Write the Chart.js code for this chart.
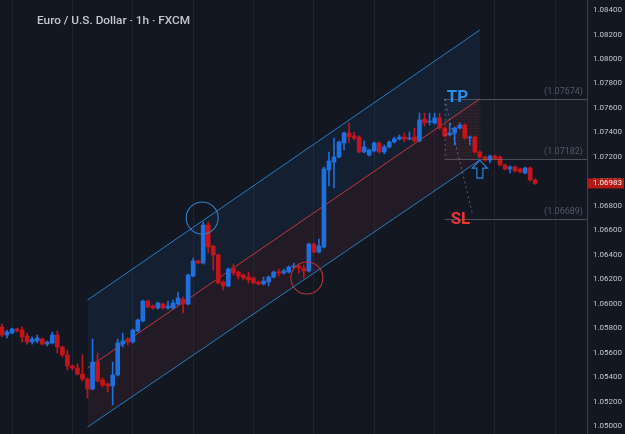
<!DOCTYPE html>
<html>
<head>
<meta charset="utf-8">
<script src="https://cdn.jsdelivr.net/npm/chart.js@4.4.1/dist/chart.umd.min.js"></script>
<style>
  html, body { margin: 0; padding: 0; background: #131722; }
  #wrap { width: 625px; height: 434px; }
</style>
</head>
<body>
<div id="wrap"><canvas id="priceChart" width="625" height="434"></canvas></div>
<script>
// EUR/USD 1h candles
var opens = [1.05810,1.05744,1.05760,1.05793,1.05785,1.05736,1.05687,1.05695,1.05711,1.05670,
  1.05679,1.05744,1.05646,1.05581,1.05491,1.05474,1.05425,1.05384,1.05303,1.05523,
  1.05376,1.05344,1.05327,1.05417,1.05670,1.05711,1.05687,1.05777,1.05859,1.06022,
  1.05981,1.05965,1.05997,1.05965,1.05965,1.05997,1.06038,1.05997,1.06226,1.06349,
  1.06332,1.06643,1.06471,1.06398,1.06177,1.06145,1.06291,1.06259,1.06234,1.06218,
  1.06210,1.06177,1.06161,1.06177,1.06218,1.06259,1.06251,1.06259,1.06300,1.06308,
  1.06291,1.06267,1.06488,1.06422,1.06463,1.07093,1.07158,1.07199,1.07313,1.07395,
  1.07371,1.07362,1.07240,1.07215,1.07248,1.07313,1.07240,1.07281,1.07322,1.07346,
  1.07362,1.07346,1.07362,1.07330,1.07509,1.07485,1.07477,1.07518,1.07436,1.07379,
  1.07395,1.07436,1.07460,1.07354,1.07362,1.07240,1.07199,1.07174,1.07207,1.07199,
  1.07134,1.07101,1.07117,1.07101,1.07068,1.07109,1.07011];
var highs = [1.05834,1.05785,1.05801,1.05801,1.05810,1.05760,1.05728,1.05744,1.05720,1.05695,
  1.05769,1.05777,1.05654,1.05621,1.05499,1.05507,1.05581,1.05393,1.05711,1.05597,
  1.05393,1.05352,1.05523,1.05711,1.05760,1.05720,1.05793,1.05875,1.06030,1.06030,
  1.05989,1.06014,1.06005,1.06022,1.06030,1.06095,1.06055,1.06242,1.06373,1.06357,
  1.06668,1.06668,1.06480,1.06406,1.06186,1.06291,1.06324,1.06267,1.06242,1.06259,
  1.06218,1.06186,1.06218,1.06226,1.06267,1.06283,1.06283,1.06308,1.06332,1.06324,
  1.06316,1.06496,1.06496,1.06529,1.07117,1.07240,1.07354,1.07330,1.07403,1.07477,
  1.07403,1.07371,1.07330,1.07264,1.07322,1.07322,1.07297,1.07330,1.07362,1.07379,
  1.07395,1.07403,1.07436,1.07558,1.07558,1.07558,1.07558,1.07558,1.07444,1.07477,
  1.07444,1.07477,1.07468,1.07371,1.07371,1.07248,1.07207,1.07215,1.07215,1.07207,
  1.07142,1.07126,1.07126,1.07109,1.07117,1.07117,1.07019];
var lows = [1.05728,1.05720,1.05752,1.05769,1.05687,1.05670,1.05670,1.05679,1.05662,1.05654,
  1.05670,1.05597,1.05564,1.05458,1.05458,1.05417,1.05368,1.05229,1.05295,1.05360,
  1.05319,1.05278,1.05172,1.05409,1.05646,1.05662,1.05679,1.05769,1.05850,1.05965,
  1.05956,1.05956,1.05956,1.05956,1.05956,1.05989,1.05924,1.05989,1.06218,1.06324,
  1.06324,1.06414,1.06275,1.06161,1.06112,1.06137,1.06234,1.06202,1.06194,1.06169,
  1.06161,1.06153,1.06153,1.06145,1.06210,1.06226,1.06242,1.06251,1.06291,1.06251,
  1.06210,1.06259,1.06414,1.06414,1.06455,1.06962,1.06946,1.07191,1.07256,1.07313,
  1.07338,1.07232,1.07232,1.07207,1.07240,1.07232,1.07224,1.07272,1.07313,1.07338,
  1.07322,1.07338,1.07322,1.07322,1.07452,1.07460,1.07468,1.07428,1.07362,1.07371,
  1.07297,1.07428,1.07346,1.07297,1.07232,1.07191,1.07166,1.07150,1.07174,1.07126,
  1.07093,1.07068,1.07076,1.07068,1.07060,1.07003,1.06975];
var closes = [1.05744,1.05769,1.05793,1.05777,1.05728,1.05687,1.05711,1.05720,1.05670,1.05687,
  1.05744,1.05646,1.05581,1.05491,1.05474,1.05425,1.05384,1.05303,1.05523,1.05368,
  1.05335,1.05327,1.05417,1.05679,1.05695,1.05687,1.05785,1.05867,1.06022,1.05973,
  1.05965,1.06005,1.05965,1.05981,1.06005,1.06046,1.05997,1.06234,1.06349,1.06332,
  1.06643,1.06463,1.06398,1.06169,1.06145,1.06283,1.06251,1.06226,1.06210,1.06194,
  1.06169,1.06161,1.06186,1.06218,1.06259,1.06251,1.06267,1.06300,1.06308,1.06291,
  1.06267,1.06488,1.06422,1.06471,1.07101,1.07166,1.07199,1.07322,1.07395,1.07362,
  1.07354,1.07240,1.07281,1.07256,1.07313,1.07240,1.07281,1.07322,1.07346,1.07362,
  1.07346,1.07354,1.07330,1.07501,1.07477,1.07493,1.07518,1.07436,1.07371,1.07395,
  1.07436,1.07460,1.07354,1.07362,1.07240,1.07199,1.07174,1.07207,1.07183,1.07134,
  1.07101,1.07117,1.07085,1.07076,1.07109,1.07011,1.06983];

var yTicks = [1.050,1.052,1.054,1.056,1.058,1.060,1.062,1.064,1.066,1.068,1.070,1.072,1.074,1.076,1.078,1.080,1.082,1.084];
var xGrid = [2, 14, 26, 38, 50, 62, 74, 86, 98, 110];

// regression channel (start bar, end bar)
var channelX = [17, 95];
var channelUpper = [1.06030, 1.08237];
var channelMid = [1.05474, 1.07674];
var channelLower = [1.04992, 1.07174];

// TP / entry / SL levels, drawn from bar 88
var levelStart = 88;
var levels = [1.07674, 1.07182, 1.06689];
var levelNames = ['TP', '', 'SL'];
var lastPrice = 1.06983;

// circled spots: bar index, price
var circleBars = [39.8, 60.6];
var circlePrices = [1.06700, 1.06210];

var UP = '#1f6fdc', DOWN = '#c4161a';
var candleColors = opens.map(function (o, i) { return closes[i] >= o ? UP : DOWN; });

function xy(xs, ys) { return xs.map(function (v, i) { return { x: v, y: ys[i] }; }); }

var overlay = {
    id: 'overlay',
    beforeDatasetsDraw: function (chart) {
        var ctx = chart.ctx, a = chart.chartArea, x = chart.scales.x, y = chart.scales.y;
        var x0 = x.getPixelForValue(levelStart), x1 = x.getPixelForValue(channelX[1]);
        var yTop = y.getPixelForValue(levels[0]), yBot = y.getPixelForValue(levels[1]);
        ctx.save();
        ctx.fillStyle = 'rgba(255,255,255,0.018)';
        ctx.fillRect(x0, yTop, a.right - x0, yBot - yTop);
        ctx.fillStyle = 'rgba(170,160,175,0.16)';
        for (var py = yTop + 2; py < yBot - 1; py += 3) {
            for (var px = x0 + 2; px < x1; px += 3) ctx.fillRect(px, py, 1, 1);
        }
        ctx.restore();
    },
    afterDatasetsDraw: function (chart) {
        var ctx = chart.ctx, a = chart.chartArea, x = chart.scales.x, y = chart.scales.y;
        var x0 = x.getPixelForValue(levelStart);
        ctx.save();
        // level lines + labels
        levels.forEach(function (lv) {
            var py = Math.round(y.getPixelForValue(lv)) + 0.5;
            ctx.strokeStyle = 'rgba(120,123,134,0.55)';
            ctx.lineWidth = 1;
            ctx.beginPath(); ctx.moveTo(x0, py); ctx.lineTo(a.right, py); ctx.stroke();
            ctx.fillStyle = '#555965';
            ctx.font = '9px Roboto, sans-serif';
            ctx.textAlign = 'right'; ctx.textBaseline = 'bottom';
            ctx.fillText('(' + lv.toFixed(5) + ')', a.right - 4, py - 3);
        });
        // dashed guides
        ctx.setLineDash([2, 3]);
        ctx.strokeStyle = 'rgba(150,152,165,0.55)';
        ctx.beginPath();
        ctx.moveTo(x0 + 0.5, y.getPixelForValue(levels[0]));
        ctx.lineTo(x0 + 0.5, y.getPixelForValue(levels[1]));
        ctx.moveTo(x0, y.getPixelForValue(levels[0]));
        ctx.lineTo(x.getPixelForValue(levelStart + 5.5), y.getPixelForValue(levels[2]) - 6);
        ctx.stroke();
        ctx.setLineDash([]);
        // TP / SL text
        ctx.font = 'bold 17px Roboto, sans-serif';
        ctx.textAlign = 'left'; ctx.textBaseline = 'middle';
        ctx.fillStyle = '#2b8ee8';
        ctx.fillText(levelNames[0], x0 + 2, y.getPixelForValue(levels[0]) - 1);
        ctx.fillStyle = '#e53935';
        ctx.fillText(levelNames[2], x0 + 6, y.getPixelForValue(levels[2]));
        // arrow under entry
        var ax = x.getPixelForValue(channelX[1]), ay = y.getPixelForValue(levels[1]) + 1;
        ctx.strokeStyle = '#2b82d0'; ctx.lineWidth = 1.2;
        ctx.beginPath();
        ctx.moveTo(ax, ay);
        ctx.lineTo(ax + 7.5, ay + 8); ctx.lineTo(ax + 3, ay + 8); ctx.lineTo(ax + 3, ay + 18);
        ctx.lineTo(ax - 3, ay + 18); ctx.lineTo(ax - 3, ay + 8); ctx.lineTo(ax - 7.5, ay + 8);
        ctx.closePath(); ctx.stroke();
        // circles
        var circleColors = ['#2f7fc4', '#b93337'];
        circleBars.forEach(function (b, i) {
            ctx.strokeStyle = circleColors[i]; ctx.lineWidth = 1.1;
            ctx.beginPath();
            ctx.arc(x.getPixelForValue(b), y.getPixelForValue(circlePrices[i]), 16, 0, Math.PI * 2);
            ctx.stroke();
        });
        // title
        ctx.font = '500 11.8px Roboto, sans-serif';
        ctx.fillStyle = '#c6c8cf';
        ctx.textAlign = 'left'; ctx.textBaseline = 'middle';
        ctx.fillText('Euro / U.S. Dollar · 1h · FXCM', 37, 21);
        ctx.restore();
    },
    afterDraw: function (chart) {
        var ctx = chart.ctx, a = chart.chartArea, y = chart.scales.y;
        var py = y.getPixelForValue(lastPrice);
        ctx.save();
        ctx.fillStyle = '#b51b14';
        ctx.fillRect(a.right + 1, py - 5, 36, 10);
        ctx.fillStyle = '#f0f0f0';
        ctx.font = '8px Roboto, sans-serif';
        ctx.textAlign = 'left'; ctx.textBaseline = 'middle';
        ctx.fillText(lastPrice.toFixed(5), a.right + 6, py);
        ctx.restore();
    }
};

document.addEventListener('DOMContentLoaded', function () {
    var ctx = document.getElementById('priceChart').getContext('2d');
    new Chart(ctx, {
        type: 'bar',
        data: {
            datasets: [{
                type: 'line',
                data: xy(channelX, channelUpper),
                borderColor: '#2a7dc0', borderWidth: 1, pointRadius: 0,
                fill: '+1', backgroundColor: 'rgba(33,120,220,0.09)', order: 5
            }, {
                type: 'line',
                data: xy(channelX, channelMid),
                borderColor: '#c2393c', borderWidth: 1, pointRadius: 0,
                fill: '+1', backgroundColor: 'rgba(220,60,70,0.08)', order: 4
            }, {
                type: 'line',
                data: xy(channelX, channelLower),
                borderColor: '#2a7dc0', borderWidth: 1, pointRadius: 0,
                fill: false, order: 3
            }, {
                // wicks
                data: lows.map(function (l, i) { return { x: i, y: [l, highs[i]] }; }),
                backgroundColor: candleColors, barThickness: 1, grouped: false, order: 1
            }, {
                // bodies
                data: opens.map(function (o, i) { return { x: i, y: [o, closes[i]] }; }),
                backgroundColor: candleColors, barThickness: 4, minBarLength: 1, grouped: false, order: 0
            }]
        },
        options: {
            responsive: false,
            animation: false,
            layout: { padding: 0 },
            plugins: { legend: { display: false }, tooltip: { enabled: false } },
            scales: {
                x: {
                    type: 'linear', min: -0.4, max: 116.3, offset: false,
                    afterBuildTicks: function (s) { s.ticks = xGrid.map(function (v) { return { value: v }; }); },
                    afterFit: function (s) { s.height = 0; s.paddingLeft = 0; s.paddingRight = 0; },
                    ticks: { display: false },
                    grid: { color: 'rgba(255,255,255,0.055)', drawTicks: false, offset: false },
                    border: { display: false }
                },
                y: {
                    position: 'right', min: 1.04935, max: 1.08482,
                    afterBuildTicks: function (s) { s.ticks = yTicks.map(function (v) { return { value: v }; }); },
                    afterFit: function (s) { s.width = 38; s.paddingTop = 0; s.paddingBottom = 0; },
                    ticks: {
                        color: '#c3c6ce', padding: 6,
                        font: { family: 'Roboto, sans-serif', size: 8 },
                        callback: function (v) { return v.toFixed(5); }
                    },
                    grid: { color: 'transparent', drawTicks: false },
                    border: { color: '#3c404c' }
                }
            }
        },
        plugins: [overlay]
    });
});
</script>
</body>
</html>
